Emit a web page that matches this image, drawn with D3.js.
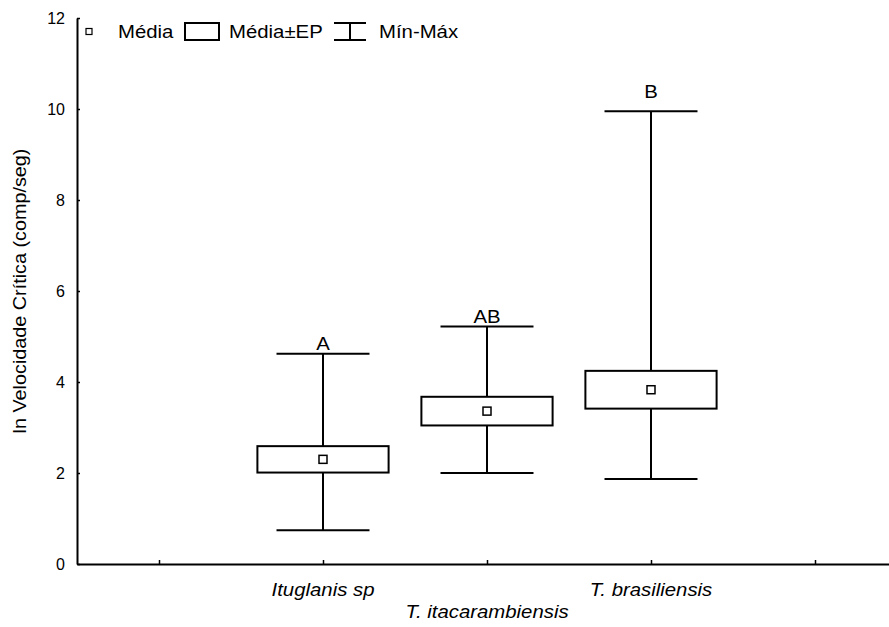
<!DOCTYPE html>
<html>
<head>
<meta charset="utf-8">
<script src="https://cdn.jsdelivr.net/npm/d3@7"></script>
<style>
  body { margin: 0; background: #fff; }
  svg { display: block; }
</style>
</head>
<body>
<script>
// Critical swimming speed per species: mean, standard error, min and max
const categories = ["Ituglanis sp", "T. itacarambiensis", "T. brasiliensis"];
const means = [2.30, 3.36, 3.83];
const stdErrors = [0.29, 0.315, 0.415];
const minimums = [0.74, 2.00, 1.87];
const maximums = [4.62, 5.22, 9.95];
const groupLetters = ["A", "AB", "B"];
const yTicks = [0, 2, 4, 6, 8, 10, 12];
const legendLabels = ["Média", "Média±EP", "Mín-Máx"];
const yTitle = "ln Velocidade Crítica (comp/seg)";

const W = 889, H = 627;
const FONT = "'Liberation Sans', Arial, sans-serif";
const STRETCH = 1.1;

const svg = d3.select("body").append("svg")
  .attr("width", W).attr("height", H)
  .style("font-family", FONT);

// slot 0 and slot 4 are empty end slots of the categorical axis
const x = d3.scaleLinear().domain([-0.5, 4.5]).range([77, 897]);
const y = d3.scaleLinear().domain([0, 12]).range([564, 18]);
const step = x(1) - x(0);

// text drawn slightly wider than the plain face
function wideText(parent, px, py, str, opts = {}) {
  const rot = opts.rotate ? ` rotate(${opts.rotate})` : "";
  return parent.append("text")
    .attr("transform", `translate(${px},${py})${rot} scale(${opts.stretch || STRETCH},1)`)
    .attr("text-anchor", opts.anchor || "start")
    .attr("font-size", opts.size || 18.5)
    .attr("font-style", opts.italic ? "italic" : "normal")
    .attr("fill", "#000")
    .text(str);
}

// ---- axes ----
const yAxis = svg.append("g")
  .attr("transform", `translate(${x.range()[0]},0)`)
  .call(d3.axisLeft(y).tickValues(yTicks).tickSizeInner(-3).tickSizeOuter(0).tickPadding(12));
yAxis.select(".domain").attr("stroke", "#000").attr("stroke-width", 2);
yAxis.selectAll(".tick line").attr("stroke", "#000").attr("stroke-width", 1.5);
yAxis.selectAll(".tick text")
  .attr("font-family", FONT).attr("font-size", 16).attr("fill", "#000");
yAxis.attr("font-family", null).attr("font-size", null);

const xAxis = svg.append("g")
  .attr("transform", `translate(0,${y(0)})`)
  .call(d3.axisBottom(x).tickValues([0, 1, 2, 3, 4]).tickSizeInner(-4).tickSizeOuter(0).tickFormat(""));
xAxis.select(".domain").attr("stroke", "#000").attr("stroke-width", 2);
xAxis.selectAll(".tick line").attr("stroke", "#000").attr("stroke-width", 1.5);

// category labels on two staggered rows
const labelRows = [596, 618];
categories.forEach((c, i) => {
  wideText(svg, x(i + 1), labelRows[i % 2], c, { anchor: "middle", italic: true });
});

// y axis title
wideText(svg, 26, (y(0) + y(12)) / 2, yTitle, { anchor: "middle", rotate: -90, size: 18 });

// ---- boxes: whiskers (min-max), mean ± SE box, mean marker ----
const boxW = step * 0.8;
const capW = step * 0.567;
const letterPad = [3.5, 3.5, 13.5];

const groups = svg.append("g").selectAll("g")
  .data(categories.map((c, i) => ({
    c, i, mean: means[i], se: stdErrors[i], min: minimums[i], max: maximums[i], letter: groupLetters[i]
  })))
  .join("g");

groups.each(function (d) {
  const g = d3.select(this);
  const cx = x(d.i + 1);
  g.append("line")
    .attr("x1", cx).attr("x2", cx).attr("y1", y(d.min)).attr("y2", y(d.max))
    .attr("stroke", "#000").attr("stroke-width", 2);
  [d.min, d.max].forEach(v => {
    g.append("line")
      .attr("x1", cx - capW / 2).attr("x2", cx + capW / 2)
      .attr("y1", y(v)).attr("y2", y(v))
      .attr("stroke", "#000").attr("stroke-width", 2);
  });
  g.append("rect")
    .attr("x", cx - boxW / 2).attr("width", boxW)
    .attr("y", y(d.mean + d.se)).attr("height", y(d.mean - d.se) - y(d.mean + d.se))
    .attr("fill", "#fff").attr("stroke", "#000").attr("stroke-width", 2);
  g.append("rect")
    .attr("x", cx - 4).attr("y", y(d.mean) - 4).attr("width", 8).attr("height", 8)
    .attr("fill", "#fff").attr("stroke", "#000").attr("stroke-width", 1.5);
  wideText(g, cx, y(d.max) - letterPad[d.i], d.letter, { anchor: "middle" });
});

// ---- legend ----
const lg = svg.append("g");
lg.append("rect").attr("x", 86).attr("y", 28.5).attr("width", 6).attr("height", 6)
  .attr("fill", "#fff").attr("stroke", "#000").attr("stroke-width", 1.2);
wideText(lg, 118, 38, legendLabels[0]);
lg.append("rect").attr("x", 185).attr("y", 23).attr("width", 34).attr("height", 17)
  .attr("fill", "#fff").attr("stroke", "#000").attr("stroke-width", 2);
wideText(lg, 229, 38, legendLabels[1]);
lg.append("path").attr("d", "M334,23H366M350,23V40M334,40H366")
  .attr("fill", "none").attr("stroke", "#000").attr("stroke-width", 2);
wideText(lg, 379, 38, legendLabels[2]);
</script>
</body>
</html>
